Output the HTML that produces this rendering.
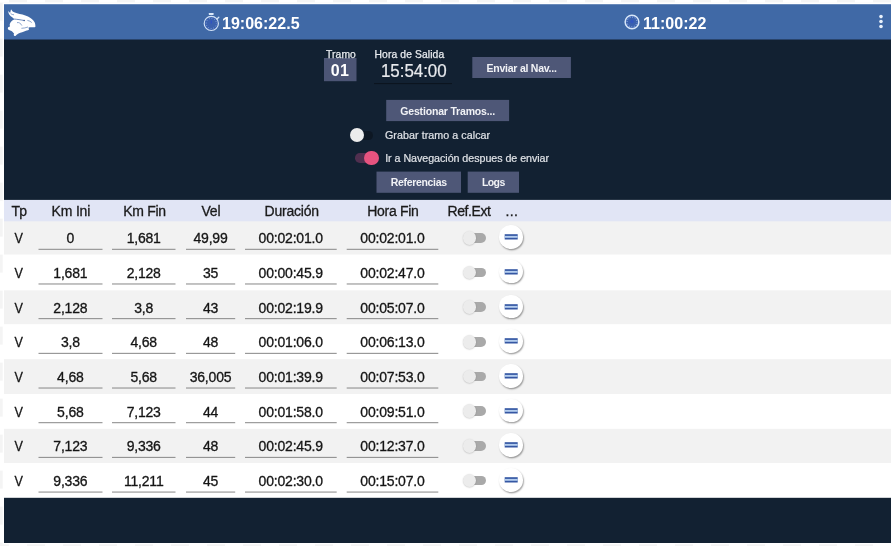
<!DOCTYPE html>
<html lang="es">
<head>
<meta charset="utf-8">
<title>Tramos</title>
<style>
*{box-sizing:border-box;margin:0;padding:0}
html,body{width:891px;height:546px;overflow:hidden;background:#fff}
body{font-family:"Liberation Sans",sans-serif;position:relative;
 background:conic-gradient(#f4f4f4 25%,#fff 0 50%,#f4f4f4 0 75%,#fff 0) -9px -15.4px/36px 36px #fff}
#app{position:absolute;left:4px;top:4px;width:887px;height:539px;background:#122132;overflow:hidden;box-shadow:0 0 0 1.3px #fff}
#bg{position:absolute;left:0;top:0}
.abs{position:absolute;white-space:nowrap}
.ttl{color:#fff;font-weight:bold;font-size:16.5px;line-height:16.5px;transform:scaleX(.972);transform-origin:0 0}
.lbl{color:#e8ebef;font-size:10.3px;line-height:12px;letter-spacing:.12px;-webkit-text-stroke:.25px #e8ebef}
.btn{color:#f1f2f6;font-weight:bold;font-size:10.5px;text-align:center;letter-spacing:-.24px}
.sw{color:#dfe2e7;font-size:10.7px;line-height:12px;-webkit-text-stroke:.2px #dfe2e7}
.th{color:#1a1a1a;font-size:14px;line-height:16px;top:198.8px;letter-spacing:-.2px;-webkit-text-stroke:.3px #1a1a1a}
.row{left:0;width:887px;height:34.75px}
.c{position:absolute;top:10.6px;font-size:14px;line-height:16px;color:#151515;text-align:center;white-space:nowrap;-webkit-text-stroke:.3px #151515;letter-spacing:-.2px}
.u{height:19.5px}
.tg{position:absolute;left:458.6px;top:11.2px;width:24px;height:14px}
.tg i{position:absolute;left:5px;top:2px;width:18.6px;height:9.7px;border-radius:5px;background:#a9a9a9}
.tg b{position:absolute;left:0;top:0;width:13.6px;height:13.6px;border-radius:50%;background:#ececec;box-shadow:0 .5px 1.5px rgba(0,0,0,.22)}
.fb{position:absolute;left:495.3px;top:5.4px;width:23.6px;height:23.6px;border-radius:50%;background:#fff;box-shadow:.8px 1.3px 1.6px rgba(0,0,0,.38)}
.fb svg{position:absolute;left:0;top:0}
</style>
</head>
<body>
<div id="app">
 <svg id="bg" width="887" height="539" viewBox="0 0 887 539">
    <rect x="0" y="0" width="887" height="35.5" fill="#4069a6"/>
  <rect x="0" y="0" width="887" height="1" fill="#ffffff" opacity=".22"/>
  <rect x="0" y="215.30" width="887" height="278.50" fill="#ffffff"/>
  <rect x="0" y="215.30" width="887" height="35.25" fill="#f2f2f2"/>
  <rect x="0" y="286.30" width="887" height="33.90" fill="#f2f2f2"/>
  <rect x="0" y="355.20" width="887" height="34.80" fill="#f2f2f2"/>
  <rect x="0" y="424.80" width="887" height="34.25" fill="#f2f2f2"/>
  <rect x="34.5" y="244.80" width="64.0" height="1" fill="#878787"/>
  <rect x="108.0" y="244.80" width="63.5" height="1" fill="#878787"/>
  <rect x="182.0" y="244.80" width="49.2" height="1" fill="#878787"/>
  <rect x="241.0" y="244.80" width="91.7" height="1" fill="#878787"/>
  <rect x="342.7" y="244.80" width="91.6" height="1" fill="#878787"/>
  <rect x="34.5" y="279.48" width="64.0" height="1" fill="#878787"/>
  <rect x="108.0" y="279.48" width="63.5" height="1" fill="#878787"/>
  <rect x="182.0" y="279.48" width="49.2" height="1" fill="#878787"/>
  <rect x="241.0" y="279.48" width="91.7" height="1" fill="#878787"/>
  <rect x="342.7" y="279.48" width="91.6" height="1" fill="#878787"/>
  <rect x="34.5" y="314.16" width="64.0" height="1" fill="#878787"/>
  <rect x="108.0" y="314.16" width="63.5" height="1" fill="#878787"/>
  <rect x="182.0" y="314.16" width="49.2" height="1" fill="#878787"/>
  <rect x="241.0" y="314.16" width="91.7" height="1" fill="#878787"/>
  <rect x="342.7" y="314.16" width="91.6" height="1" fill="#878787"/>
  <rect x="34.5" y="348.84" width="64.0" height="1" fill="#878787"/>
  <rect x="108.0" y="348.84" width="63.5" height="1" fill="#878787"/>
  <rect x="182.0" y="348.84" width="49.2" height="1" fill="#878787"/>
  <rect x="241.0" y="348.84" width="91.7" height="1" fill="#878787"/>
  <rect x="342.7" y="348.84" width="91.6" height="1" fill="#878787"/>
  <rect x="34.5" y="383.52" width="64.0" height="1" fill="#878787"/>
  <rect x="108.0" y="383.52" width="63.5" height="1" fill="#878787"/>
  <rect x="182.0" y="383.52" width="49.2" height="1" fill="#878787"/>
  <rect x="241.0" y="383.52" width="91.7" height="1" fill="#878787"/>
  <rect x="342.7" y="383.52" width="91.6" height="1" fill="#878787"/>
  <rect x="34.5" y="418.20" width="64.0" height="1" fill="#878787"/>
  <rect x="108.0" y="418.20" width="63.5" height="1" fill="#878787"/>
  <rect x="182.0" y="418.20" width="49.2" height="1" fill="#878787"/>
  <rect x="241.0" y="418.20" width="91.7" height="1" fill="#878787"/>
  <rect x="342.7" y="418.20" width="91.6" height="1" fill="#878787"/>
  <rect x="34.5" y="452.88" width="64.0" height="1" fill="#878787"/>
  <rect x="108.0" y="452.88" width="63.5" height="1" fill="#878787"/>
  <rect x="182.0" y="452.88" width="49.2" height="1" fill="#878787"/>
  <rect x="241.0" y="452.88" width="91.7" height="1" fill="#878787"/>
  <rect x="342.7" y="452.88" width="91.6" height="1" fill="#878787"/>
  <rect x="34.5" y="487.56" width="64.0" height="1" fill="#878787"/>
  <rect x="108.0" y="487.56" width="63.5" height="1" fill="#878787"/>
  <rect x="182.0" y="487.56" width="49.2" height="1" fill="#878787"/>
  <rect x="241.0" y="487.56" width="91.7" height="1" fill="#878787"/>
  <rect x="342.7" y="487.56" width="91.6" height="1" fill="#878787"/>
  <rect x="0" y="195.9" width="887" height="21.40" fill="#e1e5f5"/>
  <rect x="320" y="54" width="32.5" height="23.2" fill="#4c5575"/>
  <rect x="468.3" y="53" width="98.6" height="21" fill="#4e5777"/>
  <rect x="382.2" y="95.9" width="122.9" height="21.2" fill="#4e5777"/>
  <rect x="372.5" y="167.6" width="84.5" height="21.2" fill="#4e5777"/>
  <rect x="463.7" y="167.6" width="51.3" height="21.2" fill="#4e5777"/>
  <rect x="370" y="79" width="78" height="1.1" fill="#0b141f"/>
 </svg>
 <svg class="abs" style="left:0;top:0" width="40" height="36" viewBox="0 0 40 36">
  <path d="M4.2 6.7C4.2 6.4 5.0 7.9 5.3 8.2C5.6 8.5 6.1 8.8 6.3 8.6C6.5 8.4 6.4 7.5 6.6 7.0C6.8 6.5 6.8 5.3 7.2 5.4C7.6 5.5 8.1 7.2 9.1 7.8C10.1 8.4 11.4 8.7 13.0 9.2C14.6 9.7 16.7 10.0 18.5 10.6C20.3 11.2 22.4 11.8 24.0 12.5C25.6 13.2 26.7 14.0 27.8 15.0C28.9 16.0 30.0 17.1 30.6 18.3C31.2 19.5 31.4 21.3 31.4 22.1C31.4 22.9 31.6 23.0 30.6 23.2C29.6 23.4 26.6 23.0 25.6 23.2C24.6 23.4 24.6 23.7 24.5 24.1C24.4 24.5 25.5 25.1 24.8 25.7C24.1 26.2 21.5 26.9 20.1 27.4C18.7 27.9 17.5 28.2 16.3 28.7C15.1 29.2 13.9 29.8 13.0 30.4C12.1 30.9 11.7 31.9 11.1 32.0C10.5 32.1 9.9 31.3 9.7 30.9C9.5 30.5 10.4 30.2 10.0 29.6C9.6 29.0 8.3 27.7 7.5 27.1C6.7 26.5 5.6 26.4 5.0 26.0C4.4 25.6 4.0 25.3 3.9 24.9C3.8 24.5 3.8 23.9 4.1 23.5C4.4 23.1 5.5 23.0 5.8 22.4C6.1 21.8 5.5 20.8 5.8 19.9C6.1 19.0 6.8 17.9 7.5 17.2C8.2 16.5 9.2 16.2 9.7 15.8C10.1 15.4 10.6 15.5 10.2 15.0C9.8 14.5 8.4 13.6 7.5 12.8C6.6 12.0 5.5 11.0 5.0 10.0C4.5 9.0 4.2 7.0 4.2 6.7Z" fill="#fff"/>
  <circle cx="20.1" cy="16.5" r=".75" fill="#27457d"/>
  <path d="M10.2 15 C12 15.3 13.5 15.4 15 15.6 C17 15.9 18.6 16.2 20.1 16.5" fill="none" stroke="#4a70ad" stroke-width=".8"/>
  <path d="M13 18.6 C14.2 18.4 15 18.6 15.7 19.1 C16.8 19.8 17.5 20.6 17.9 21.6 M23.4 16.4 C25.2 16.7 26.8 17.5 27.8 18.6 M17.4 24.3 C19.5 24.3 22 23.8 24 23 M6.6 9.6 C7.6 10.4 8.8 10.7 10 10.8" fill="none" stroke="#5f82bb" stroke-width=".7"/>
 </svg>
 <svg class="abs" style="left:198px;top:8px" width="20" height="20" viewBox="0 0 20 20">
  <circle cx="9.3" cy="11.4" r="7.1" fill="#3b61ae" stroke="#d3e3f6" stroke-width="1.15"/>
  <circle cx="9.3" cy="11.4" r="5.1" fill="none" stroke="#a9c8ef" stroke-width=".8" stroke-dasharray=".7 1.97" stroke-dashoffset=".35"/>
  <rect x="6.8" y="1" width="4.8" height="1.9" rx=".4" fill="#dbe8f8"/>
  <path d="M15 7 L16.8 5.2" stroke="#d3e3f6" stroke-width="1.3" stroke-linecap="round"/>
  <path d="M9.3 8.6 V11.6" stroke="#3052c4" stroke-width="1.3"/>
 </svg>
 <div class="abs ttl" style="left:218.3px;top:10.7px">19:06:22.5</div>
 <svg class="abs" style="left:619.1px;top:9.1px" width="18" height="18" viewBox="0 0 18 18">
  <circle cx="9" cy="9" r="6.85" fill="#3b61ae" stroke="#d7e6f8" stroke-width="1.5"/>
  <circle cx="9" cy="9" r="4.9" fill="none" stroke="#b7d2f2" stroke-width="1" stroke-dasharray=".85 1.716" stroke-dashoffset=".42"/>
  <circle cx="9" cy="8.6" r="1.8" fill="#3155c3" opacity=".8"/>
 </svg>
 <div class="abs ttl" style="left:638.6px;top:10.7px">11:00:22</div>
 <svg class="abs" style="left:872.3px;top:9.2px" width="10" height="18" viewBox="0 0 10 18">
  <circle cx="5" cy="3.6" r="1.8" fill="#e9f1fb"/><circle cx="5" cy="8.5" r="1.8" fill="#e9f1fb"/><circle cx="5" cy="13.5" r="1.8" fill="#e9f1fb"/>
 </svg>

 <div class="abs lbl" style="left:322px;top:44.6px">Tramo</div>
 <div class="abs" style="left:319.6px;top:54.5px;width:32.5px;height:23.2px;color:#fff;font-weight:bold;font-size:16px;line-height:23.2px;text-align:center;letter-spacing:.5px;padding-left:.5px">01</div>
 <div class="abs lbl" style="left:370.5px;top:44.6px">Hora de Salida</div>
 <div class="abs" style="left:376.5px;top:57.6px;color:#e8eaee;font-size:18.2px;line-height:18.2px;letter-spacing:-.08px;-webkit-text-stroke:.2px #e8eaee;transform:scaleX(.934);transform-origin:0 0">15:54:00</div>
 <div class="abs btn" style="left:468.3px;top:54px;width:98.6px;height:21px;line-height:21px">Enviar al Nav...</div>
 <div class="abs btn" style="left:382.2px;top:96.9px;width:122.9px;height:21.2px;line-height:21.2px;letter-spacing:-.18px">Gestionar Tramos...</div>

 <div class="abs" style="left:352px;top:126.8px;width:16.5px;height:8.8px;border-radius:4.5px;background:#0d1723"></div>
 <div class="abs" style="left:345.9px;top:123.8px;width:14.4px;height:14.4px;border-radius:50%;background:#ececec"></div>
 <div class="abs sw" style="left:381px;top:125.3px;letter-spacing:.06px">Grabar tramo a calcar</div>

 <div class="abs" style="left:350.7px;top:149.2px;width:20px;height:9.5px;border-radius:4.8px;background:#502f4f"></div>
 <div class="abs" style="left:360.1px;top:146.8px;width:14.6px;height:14.6px;border-radius:50%;background:#e6537f"></div>
 <div class="abs sw" style="left:381.2px;top:148.2px;letter-spacing:-.04px">Ir a Navegación despues de enviar</div>

 <div class="abs btn" style="left:372.5px;top:167.6px;width:84.5px;height:21.2px;line-height:21.2px;letter-spacing:-.32px">Referencias</div>
 <div class="abs btn" style="left:463.7px;top:167.6px;width:51.3px;height:21.2px;line-height:21.2px;letter-spacing:-.6px">Logs</div>

 <div class="abs th" style="left:7.6px;letter-spacing:-1px">Tp</div>
 <div class="abs th" style="left:47.6px">Km Ini</div>
 <div class="abs th" style="left:119.3px;letter-spacing:-.3px">Km Fin</div>
 <div class="abs th" style="left:197.5px">Vel</div>
 <div class="abs th" style="left:260.5px">Duración</div>
 <div class="abs th" style="left:363.3px;letter-spacing:-.3px">Hora Fin</div>
 <div class="abs th" style="left:443.5px;letter-spacing:-.4px">Ref.Ext</div>
 <div class="abs th" style="left:501.6px;letter-spacing:.3px">...</div>
 <div class="abs row" style="top:215.80px"><span class="c" style="left:9.6px;transform:scaleX(.9)">V</span><span class="c u" style="left:34.3px;width:64.1px">0</span><span class="c u" style="left:107.8px;width:63.8px">1,681</span><span class="c u" style="left:182px;width:49px">49,99</span><span class="c u" style="left:240.7px;width:92px">00:02:01.0</span><span class="c u" style="left:342.7px;width:91.5px">00:02:01.0</span><span class="tg"><i></i><b></b></span><span class="fb"><svg width="24" height="24" viewBox="0 0 24 24"><rect x="5.7" y="9.2" width="13" height="5.3" fill="#3557a3"/><rect x="5.7" y="10.9" width="13" height="1.9" fill="#b4cdee"/></svg></span></div>
 <div class="abs row" style="top:250.48px"><span class="c" style="left:9.6px;transform:scaleX(.9)">V</span><span class="c u" style="left:34.3px;width:64.1px">1,681</span><span class="c u" style="left:107.8px;width:63.8px">2,128</span><span class="c u" style="left:182px;width:49px">35</span><span class="c u" style="left:240.7px;width:92px">00:00:45.9</span><span class="c u" style="left:342.7px;width:91.5px">00:02:47.0</span><span class="tg"><i></i><b></b></span><span class="fb"><svg width="24" height="24" viewBox="0 0 24 24"><rect x="5.7" y="9.2" width="13" height="5.3" fill="#3557a3"/><rect x="5.7" y="10.9" width="13" height="1.9" fill="#b4cdee"/></svg></span></div>
 <div class="abs row" style="top:285.16px"><span class="c" style="left:9.6px;transform:scaleX(.9)">V</span><span class="c u" style="left:34.3px;width:64.1px">2,128</span><span class="c u" style="left:107.8px;width:63.8px">3,8</span><span class="c u" style="left:182px;width:49px">43</span><span class="c u" style="left:240.7px;width:92px">00:02:19.9</span><span class="c u" style="left:342.7px;width:91.5px">00:05:07.0</span><span class="tg"><i></i><b></b></span><span class="fb"><svg width="24" height="24" viewBox="0 0 24 24"><rect x="5.7" y="9.2" width="13" height="5.3" fill="#3557a3"/><rect x="5.7" y="10.9" width="13" height="1.9" fill="#b4cdee"/></svg></span></div>
 <div class="abs row" style="top:319.84px"><span class="c" style="left:9.6px;transform:scaleX(.9)">V</span><span class="c u" style="left:34.3px;width:64.1px">3,8</span><span class="c u" style="left:107.8px;width:63.8px">4,68</span><span class="c u" style="left:182px;width:49px">48</span><span class="c u" style="left:240.7px;width:92px">00:01:06.0</span><span class="c u" style="left:342.7px;width:91.5px">00:06:13.0</span><span class="tg"><i></i><b></b></span><span class="fb"><svg width="24" height="24" viewBox="0 0 24 24"><rect x="5.7" y="9.2" width="13" height="5.3" fill="#3557a3"/><rect x="5.7" y="10.9" width="13" height="1.9" fill="#b4cdee"/></svg></span></div>
 <div class="abs row" style="top:354.52px"><span class="c" style="left:9.6px;transform:scaleX(.9)">V</span><span class="c u" style="left:34.3px;width:64.1px">4,68</span><span class="c u" style="left:107.8px;width:63.8px">5,68</span><span class="c u" style="left:182px;width:49px">36,005</span><span class="c u" style="left:240.7px;width:92px">00:01:39.9</span><span class="c u" style="left:342.7px;width:91.5px">00:07:53.0</span><span class="tg"><i></i><b></b></span><span class="fb"><svg width="24" height="24" viewBox="0 0 24 24"><rect x="5.7" y="9.2" width="13" height="5.3" fill="#3557a3"/><rect x="5.7" y="10.9" width="13" height="1.9" fill="#b4cdee"/></svg></span></div>
 <div class="abs row" style="top:389.20px"><span class="c" style="left:9.6px;transform:scaleX(.9)">V</span><span class="c u" style="left:34.3px;width:64.1px">5,68</span><span class="c u" style="left:107.8px;width:63.8px">7,123</span><span class="c u" style="left:182px;width:49px">44</span><span class="c u" style="left:240.7px;width:92px">00:01:58.0</span><span class="c u" style="left:342.7px;width:91.5px">00:09:51.0</span><span class="tg"><i></i><b></b></span><span class="fb"><svg width="24" height="24" viewBox="0 0 24 24"><rect x="5.7" y="9.2" width="13" height="5.3" fill="#3557a3"/><rect x="5.7" y="10.9" width="13" height="1.9" fill="#b4cdee"/></svg></span></div>
 <div class="abs row" style="top:423.88px"><span class="c" style="left:9.6px;transform:scaleX(.9)">V</span><span class="c u" style="left:34.3px;width:64.1px">7,123</span><span class="c u" style="left:107.8px;width:63.8px">9,336</span><span class="c u" style="left:182px;width:49px">48</span><span class="c u" style="left:240.7px;width:92px">00:02:45.9</span><span class="c u" style="left:342.7px;width:91.5px">00:12:37.0</span><span class="tg"><i></i><b></b></span><span class="fb"><svg width="24" height="24" viewBox="0 0 24 24"><rect x="5.7" y="9.2" width="13" height="5.3" fill="#3557a3"/><rect x="5.7" y="10.9" width="13" height="1.9" fill="#b4cdee"/></svg></span></div>
 <div class="abs row" style="top:458.56px"><span class="c" style="left:9.6px;transform:scaleX(.9)">V</span><span class="c u" style="left:34.3px;width:64.1px">9,336</span><span class="c u" style="left:107.8px;width:63.8px">11,211</span><span class="c u" style="left:182px;width:49px">45</span><span class="c u" style="left:240.7px;width:92px">00:02:30.0</span><span class="c u" style="left:342.7px;width:91.5px">00:15:07.0</span><span class="tg"><i></i><b></b></span><span class="fb"><svg width="24" height="24" viewBox="0 0 24 24"><rect x="5.7" y="9.2" width="13" height="5.3" fill="#3557a3"/><rect x="5.7" y="10.9" width="13" height="1.9" fill="#b4cdee"/></svg></span></div>
</div>
</body>
</html>
